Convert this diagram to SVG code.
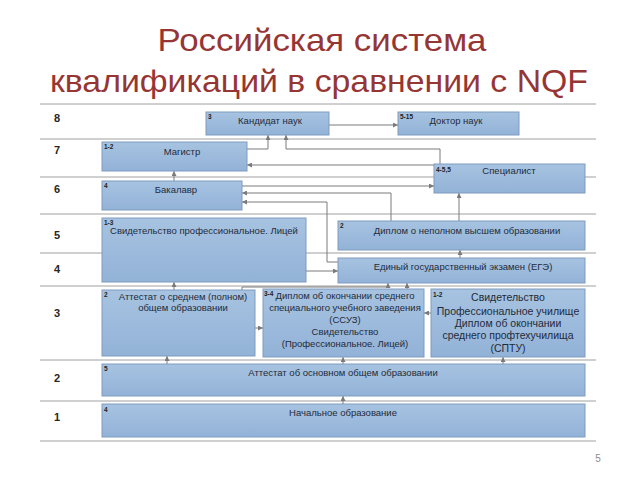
<svg xmlns="http://www.w3.org/2000/svg" width="640" height="480" viewBox="0 0 640 480">
<defs>
<linearGradient id="bf" x1="0" y1="0" x2="0" y2="1">
<stop offset="0" stop-color="#a7c3e1"/>
<stop offset="1" stop-color="#92b2d7"/>
</linearGradient>
<marker id="ar" viewBox="0 0 6 6" refX="6" refY="3" markerWidth="5" markerHeight="5" markerUnits="userSpaceOnUse" orient="auto">
<path d="M0,0 L6,3 L0,6 z" fill="#7a7a7a"/>
</marker>
</defs>
<style>
.t{font-family:"Liberation Sans",Arial,sans-serif;fill:#963634;font-size:32px;text-anchor:middle}
.rl{stroke:#a0a0a0;stroke-width:1}
.rn{font-family:"Liberation Sans",Arial,sans-serif;font-weight:bold;font-size:11px;fill:#262626;text-anchor:middle}
.b{fill:url(#bf);stroke:#7f9bbf;stroke-width:1}
.lb{font-family:"Liberation Sans",Arial,sans-serif;font-weight:bold;font-size:6.5px;fill:#222}
.x{font-family:"Liberation Sans",Arial,sans-serif;font-size:9.5px;fill:#1f2b3a;text-anchor:middle}
.xl{font-family:"Liberation Sans",Arial,sans-serif;font-size:10.5px;fill:#1f2b3a;text-anchor:middle}
.c{fill:none;stroke:#7a7a7a;stroke-width:1;marker-end:url(#ar)}
</style>
<rect width="640" height="480" fill="#ffffff"/>
<text class="t" x="322" y="51" textLength="329" lengthAdjust="spacingAndGlyphs">Российская система</text>
<text class="t" x="319" y="92" textLength="538" lengthAdjust="spacingAndGlyphs">квалификаций в сравнении с NQF</text>

<g id="rows">
<line class="rl" x1="40" y1="104" x2="596" y2="104"/>
<line class="rl" x1="40" y1="139" x2="596" y2="139"/>
<line class="rl" x1="40" y1="177" x2="596" y2="177"/>
<line class="rl" x1="40" y1="214" x2="596" y2="214"/>
<line class="rl" x1="40" y1="253" x2="596" y2="253"/>
<line class="rl" x1="40" y1="286" x2="596" y2="286"/>
<line class="rl" x1="40" y1="360" x2="596" y2="360"/>
<line class="rl" x1="40" y1="401" x2="596" y2="401"/>
<line class="rl" x1="40" y1="441" x2="596" y2="441"/>
<text class="rn" x="57" y="122">8</text>
<text class="rn" x="57" y="154">7</text>
<text class="rn" x="57" y="193">6</text>
<text class="rn" x="57" y="239">5</text>
<text class="rn" x="57" y="273">4</text>
<text class="rn" x="57" y="317">3</text>
<text class="rn" x="57" y="382">2</text>
<text class="rn" x="57" y="421">1</text>
</g>

<g id="connectors">
<path class="c" d="M329,125 H398"/>
<path class="c" d="M247,149 H268 V135"/>
<path class="c" d="M440,164 V149 H286 V135"/>
<path class="c" d="M434,165 H247"/>
<path class="c" d="M174,181 V171"/>
<path class="c" d="M242,186 H434"/>
<path class="c" d="M391,221 V193 H242"/>
<path class="c" d="M338,262 H327 V202 H242"/>
<path class="c" d="M459,221 V193"/>
<path class="c" d="M460,258 V250"/>
<path class="c" d="M306,271 H338"/>
<path class="c" d="M174,290 V282"/>
<path class="c" d="M242,290 V287 H388 V283"/>
<path class="c" d="M407,289 V283"/>
<path class="c" d="M255,328 H263"/>
<path class="c" d="M431,313 H424"/>
<path class="c" d="M167,364 V356"/>
<path class="c" d="M343,364 V357"/>
<path class="c" d="M503,364 V357"/>
<path class="c" d="M343,404 V396"/>
</g>

<g id="kandidat">
<rect class="b" x="206" y="112" width="123" height="23"/>
<text class="lb" x="208" y="119">3</text>
<text class="x" x="270" y="124">Кандидат наук</text>
</g>
<g id="doktor">
<rect class="b" x="398" y="112" width="121" height="23"/>
<text class="lb" x="400" y="119">5-15</text>
<text class="x" x="456" y="124">Доктор наук</text>
</g>
<g id="magistr">
<rect class="b" x="102" y="142" width="145" height="29"/>
<text class="lb" x="104" y="149">1-2</text>
<text class="x" x="182" y="155">Магистр</text>
</g>
<g id="bakalavr">
<rect class="b" x="102" y="181" width="140" height="29"/>
<text class="lb" x="104" y="188">4</text>
<text class="x" x="176" y="193">Бакалавр</text>
</g>
<g id="specialist">
<rect class="b" x="434" y="164" width="151" height="29"/>
<text class="lb" x="436" y="172">4-5,5</text>
<text class="x" x="509" y="174">Специалист</text>
</g>
<g id="licey">
<rect class="b" x="102" y="218" width="204" height="64"/>
<text class="lb" x="104" y="225">1-3</text>
<text class="x" x="204" y="234">Свидетельство профессиональное. Лицей</text>
</g>
<g id="nepolnoe">
<rect class="b" x="338" y="221" width="247" height="29"/>
<text class="lb" x="340" y="228">2</text>
<text class="x" x="467" y="234">Диплом о неполном высшем образовании</text>
</g>
<g id="ege">
<rect class="b" x="338" y="258" width="247" height="25"/>
<text class="x" x="463" y="270">Единый государственный экзамен (ЕГЭ)</text>
</g>
<g id="attestat-srednee">
<rect class="b" x="102" y="290" width="153" height="66"/>
<text class="lb" x="104" y="297">2</text>
<text class="x" x="183" y="300">Аттестат о среднем (полном)</text>
<text class="x" x="183" y="311">общем образовании</text>
</g>
<g id="ssuz">
<rect class="b" x="263" y="289" width="161" height="68"/>
<text class="lb" x="264" y="296">3-4</text>
<text class="x" x="345" y="299">Диплом об окончании среднего</text>
<text class="x" x="345" y="311">специального учебного заведения</text>
<text class="x" x="345" y="323">(ССУЗ)</text>
<text class="x" x="345" y="335">Свидетельство</text>
<text class="x" x="345" y="347">(Профессиональное. Лицей)</text>
</g>
<g id="sptu">
<rect class="b" x="431" y="289" width="154" height="68"/>
<text class="lb" x="433" y="297">1-2</text>
<text class="xl" x="508" y="301">Свидетельство</text>
<text class="xl" x="508" y="315">Профессиональное училище</text>
<text class="xl" x="508" y="327">Диплом об окончании</text>
<text class="xl" x="508" y="339">среднего профтехучилища</text>
<text class="xl" x="508" y="352">(СПТУ)</text>
</g>
<g id="osnovnoe">
<rect class="b" x="102" y="364" width="483" height="32"/>
<text class="lb" x="104" y="371">5</text>
<text class="x" x="343" y="376">Аттестат об основном общем образовании</text>
</g>
<g id="nachalnoe">
<rect class="b" x="102" y="404" width="483" height="33"/>
<text class="lb" x="104" y="412">4</text>
<text class="x" x="343" y="416">Начальное образование</text>
</g>
<text x="598" y="462" font-family="Liberation Sans, Arial, sans-serif" font-size="10" fill="#8c8c8c" text-anchor="middle">5</text>
</svg>
